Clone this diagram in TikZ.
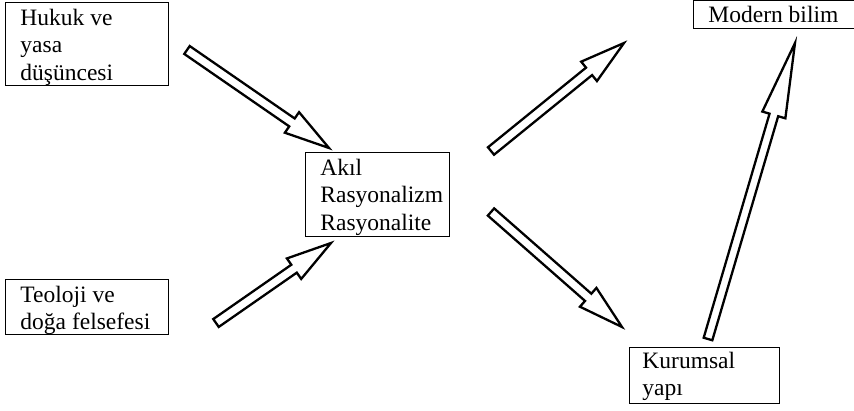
\documentclass[tikz,border=0pt]{standalone}
\usepackage{fontspec}
\setmainfont{Liberation Serif}
\usetikzlibrary{calc}

% hollow block arrow: tail, tip, shaft half-width, head half-width, head length
\newcommand\blockarrow[5]{%
  \coordinate (ba-b) at ($(#2)!#5!(#1)$);
  \draw[barrow]
    ($(#1)!#3!90:(#2)$) -- ($(ba-b)!#3!-90:(#1)$) -- ($(ba-b)!#4!-90:(#1)$)
    -- (#2)
    -- ($(ba-b)!#4!90:(#1)$) -- ($(ba-b)!#3!90:(#1)$) -- ($(#1)!#3!-90:(#2)$)
    -- cycle;
}

\tikzset{
  box/.style={draw=black, line width=0.9pt, fill=white, anchor=north west,
    inner xsep=15pt, inner ysep=0pt, text height=23pt,
    font=\fontsize{23.5pt}{27.5pt}\selectfont},
  barrow/.style={draw=black, line width=2.3pt, line join=miter, fill=white},
}

\begin{document}
\begin{tikzpicture}[x=1pt, y=-1pt]
  \useasboundingbox (0,0) rectangle (854,411);

  % concept boxes
  \node[box, text depth=60pt] (hukuk) at (5,2)
    {\parbox[t]{133pt}{Hukuk ve\\yasa\\düşüncesi}};
  \node[box, text depth=32pt] (teoloji) at (5,279)
    {\parbox[t]{133pt}{Teoloji ve\\doğa felsefesi}};
  \node[box, text depth=61pt] (akil) at (305,152)
    {\parbox[t]{114pt}{Akıl\\Rasyonalizm\\Rasyonalite}};
  \node[box, text depth=6pt, text height=22pt] (modern) at (693,0)
    {\parbox[t]{133pt}{Modern bilim}};
  \node[box, inner xsep=13pt, text depth=35pt, text height=21pt] (kurumsal) at (629,347)
    {\parbox[t]{124pt}{Kurumsal\\yapı}};

  % arrow end points
  \coordinate (a1s) at (187,50);  \coordinate (a1t) at (329,148);
  \coordinate (a2s) at (216,323); \coordinate (a2t) at (331,243);
  \coordinate (a3s) at (491,151); \coordinate (a3t) at (624,43);
  \coordinate (a4s) at (491,212); \coordinate (a4t) at (622,327);
  \coordinate (a5s) at (708,339); \coordinate (a5t) at (795,43);

  % hollow arrows between the boxes
  \blockarrow{a1s}{a1t}{4.8pt}{12.5pt}{45pt}
  \blockarrow{a2s}{a2t}{4.8pt}{12.5pt}{45pt}
  \blockarrow{a3s}{a3t}{4.8pt}{12.5pt}{45pt}
  \blockarrow{a4s}{a4t}{4.8pt}{12.5pt}{45pt}
  \blockarrow{a5s}{a5t}{4.5pt}{12pt}{75pt}
\end{tikzpicture}
\end{document}
